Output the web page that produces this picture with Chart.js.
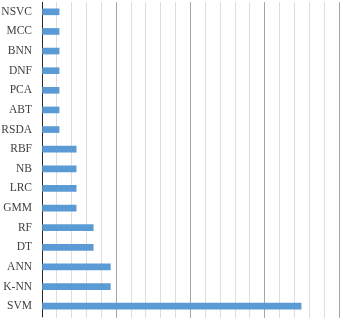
<!DOCTYPE html>
<html>
<head>
<meta charset="utf-8">
<script src="https://cdn.jsdelivr.net/npm/chart.js@4/dist/chart.umd.min.js"></script>
<style>
html,body{margin:0;padding:0;background:#fff;}
canvas{display:block;}
</style>
</head>
<body>
<canvas id="c" width="343" height="320"></canvas>
<script>
const categories = ["NSVC","MCC","BNN","DNF","PCA","ABT","RSDA","RBF","NB","LRC","GMM","RF","DT","ANN","K-NN","SVM"];
const values = [1.15,1.15,1.15,1.15,1.15,1.15,1.15,2.3,2.3,2.3,2.3,3.45,3.45,4.6,4.6,17.45];
const axisMin = 0, axisMax = 20, minorStep = 1, majorStep = 5;

new Chart(document.getElementById('c'), {
  type: 'bar',
  data: {
    labels: categories,
    datasets: [{
      data: values,
      backgroundColor: '#5b9bd5',
      borderWidth: 0,
      barThickness: 6
    }]
  },
  options: {
    indexAxis: 'y',
    responsive: false,
    animation: false,
    devicePixelRatio: 1,
    layout: { padding: { left: 0, right: 4, top: 2, bottom: 0 } },
    plugins: { legend: { display: false }, tooltip: { enabled: false } },
    scales: {
      x: {
        min: axisMin, max: axisMax,
        ticks: { display: false, stepSize: minorStep },
        grid: {
          drawTicks: true,
          tickLength: 2,
          color: ctx => (ctx.tick && ctx.tick.value % majorStep === 0) ? '#a6a6a6' : '#dedede',
          lineWidth: 1
        },
        border: { display: false },
        afterFit: s => { s.height = 4; s.paddingLeft = 0; s.paddingRight = 0; }
      },
      y: {
        grid: { display: false, drawTicks: false },
        border: { display: true, color: '#262626', width: 1 },
        ticks: {
          color: '#404040',
          font: { family: '"Liberation Serif", "Times New Roman", serif', size: 11.5 },
          padding: 10
        },
        afterFit: s => { s.width = 42; s.paddingTop = 0; s.paddingBottom = 0; }
      }
    }
  }
});
</script>
</body>
</html>
